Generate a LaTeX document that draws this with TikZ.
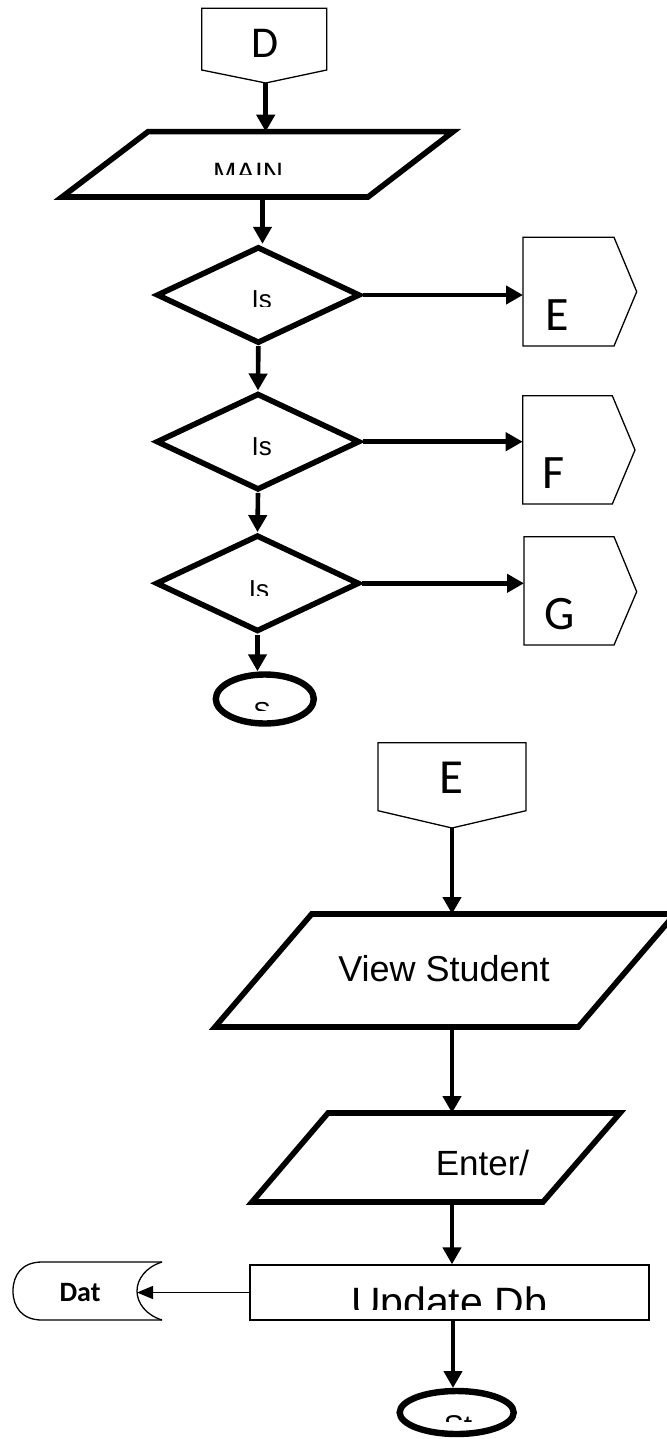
\documentclass[tikz,border=0pt]{standalone}
\usepackage{fontspec}
\setmainfont{Liberation Sans}
\newfontfamily\calfont{Carlito}
\usetikzlibrary{arrows.meta,shapes.geometric}
\begin{document}
\begin{tikzpicture}[x=0.5pt,y=-0.5pt,
  shp/.style={line width=2.8pt, line join=miter},
  ell/.style={ellipse, draw, line width=3.2pt, inner sep=0pt},
  conn/.style={line width=0.65pt},
  arr/.style={line width=2.3pt,-{Triangle[length=8.5pt,width=9pt]}},
  thinarr/.style={line width=0.65pt,-{Triangle[length=8pt,width=6.5pt]}},
  lbl/.style={inner sep=0pt, anchor=base},
  dia/.style={diamond, draw, shp, inner sep=0pt, minimum width=101.8pt, minimum height=48.4pt},
  pent/.style={font=\calfont\fontsize{24}{24}\selectfont},
]
\useasboundingbox (0,0) rectangle (667,1439);

% ---------- D off-page connector ----------
\draw[conn] (201.7,8.3) -- (326.7,8.3) -- (326.7,70) -- (265.7,83) -- (201.7,70) -- cycle;
\coordinate (Dout) at (265.7,83);
\node[lbl,font=\calfont\fontsize{22}{22}\selectfont] (Dlbl) at (265,58) {D};

% ---------- MAIN ----------
\draw[shp] (148,131.7) -- (453,131.7) -- (368,197) -- (62,197) -- cycle;
\coordinate (MAINin) at (265.7,131.7);
\coordinate (MAINout) at (262.5,197);
\begin{scope}
\clip (0,0) rectangle (667,175);
\node[lbl,font=\fontsize{14}{14}\selectfont] (MAINlbl) at (248,183) {MAIN};
\end{scope}

% ---------- decisions ----------
\node[dia] (d1) at (258.3,295) {};
\node[dia] (d2) at (258,441.7) {};
\node[dia] (d3) at (257.5,583.3) {};
\begin{scope}
\clip (0,0) rectangle (667,306);
\node[lbl,font=\fontsize{13}{13}\selectfont] (is1) at (261.7,308.6) {Is};
\end{scope}
\begin{scope}
\clip (0,0) rectangle (667,455);
\node[lbl,font=\fontsize{13}{13}\selectfont] (is2) at (261.7,455.3) {Is};
\end{scope}
\begin{scope}
\clip (0,0) rectangle (667,595);
\node[lbl,font=\fontsize{13}{13}\selectfont] (is3) at (259,598.6) {Is};
\end{scope}

% ---------- right connectors E F G ----------
\draw[conn] (523,237.3) -- (614,237.3) -- (636.7,291.7) -- (614,346) -- (523,346) -- cycle;
\coordinate (E1in) at (523,295);
\node[lbl,pent] (E1lbl) at (557,330) {E};
\draw[conn] (522.7,395.7) -- (612.3,395.7) -- (635,450) -- (612.3,504) -- (522.7,504) -- cycle;
\coordinate (Fin) at (522.7,441.7);
\node[lbl,pent] (Flbl) at (554,488) {F};
\draw[conn] (524,536.7) -- (614,536.7) -- (636.7,591.7) -- (614,645) -- (524,645) -- cycle;
\coordinate (Gin) at (524,583.3);
\node[lbl,pent] (Glbl) at (560,629.5) {G};

% ---------- S terminator ----------
\node[ell, minimum width=49pt, minimum height=24.5pt] (S) at (264.8,699) {};
\begin{scope}
\clip (0,0) rectangle (667,710);
\node[lbl,font=\fontsize{13}{13}\selectfont] (Slbl) at (262,720.3) {S};
\end{scope}

% ---------- connectors, part 1 ----------
\draw[arr] (Dout) -- (MAINin);
\draw[arr] (MAINout) -- (MAINout |- d1.north);
\draw[arr] (d1.south) -- (d2.north);
\draw[arr] (d2.south) -- (d3.north);
\draw[arr] (d3.south) -- (d3.south |- S.north);
\draw[arr] (d1.east) -- (E1in);
\draw[arr] (d2.east) -- (Fin);
\draw[arr] (d3.east) -- (Gin);

% ---------- E off-page connector ----------
\draw[conn] (378,742.7) -- (526,742.7) -- (526,810.7) -- (452,828) -- (378,810.7) -- cycle;
\coordinate (E2out) at (452,828);
\node[lbl,font=\calfont\fontsize{24.5}{24.5}\selectfont] (E2lbl) at (451.5,793.3) {E};

% ---------- View Student ----------
\draw[shp] (311.7,914) -- (675,914) -- (578.3,1027) -- (215,1027) -- cycle;
\coordinate (VSin) at (452,914);
\coordinate (VSout) at (452,1027);
\node[lbl,font=\fontsize{18}{18}\selectfont] (VSlbl) at (444,981.7) {View Student};

% ---------- Enter/ ----------
\draw[shp] (328,1113) -- (620,1113) -- (543,1202) -- (252,1202) -- cycle;
\coordinate (ENin) at (452,1113);
\coordinate (ENout) at (452,1202);
\begin{scope}
\clip (0,0) rectangle (667,1176);
\node[lbl,font=\fontsize{17.5}{17.5}\selectfont] (ENlbl) at (482.5,1175) {Enter/};
\end{scope}

% ---------- Update Db ----------
\node[draw, conn, inner sep=0pt, minimum width=199.5pt, minimum height=27.5pt] (upd) at (449.5,1292.5) {};
\begin{scope}
\clip (0,0) rectangle (667,1309);
\node[lbl,font=\fontsize{20.5}{20.5}\selectfont] (updlbl) at (449,1316) {Update Db};
\end{scope}

% ---------- Data store ----------
\draw[conn] (162,1262) -- (42,1262) .. controls (22,1262) and (13,1275) .. (13,1291)
  .. controls (13,1307) and (22,1320) .. (42,1320) -- (162,1320);
\draw[conn] (162,1262) .. controls (146,1267) and (137,1279) .. (137,1291)
  .. controls (137,1303) and (146,1315) .. (162,1320);
\coordinate (Datin) at (137,1292.5);
\node[lbl,font=\calfont\bfseries\fontsize{14}{14}\selectfont] (Datlbl) at (80,1301.7) {Dat};

% ---------- Stop terminator ----------
\node[ell, minimum width=57pt, minimum height=21.5pt] (St) at (456.7,1412.5) {};
\begin{scope}
\clip (0,0) rectangle (667,1421.7);
\node[lbl,font=\fontsize{15}{15}\selectfont] (Stlbl) at (458,1436.5) {St};
\end{scope}

% ---------- connectors, part 2 ----------
\draw[arr] (E2out) -- (VSin);
\draw[arr] (VSout) -- (ENin);
\draw[arr] (ENout) -- (ENout |- upd.north);
\draw[arr] (upd.south -| 453,0) -- (453,1388);
\draw[thinarr] (upd.west) -- (Datin);
\end{tikzpicture}
\end{document}
